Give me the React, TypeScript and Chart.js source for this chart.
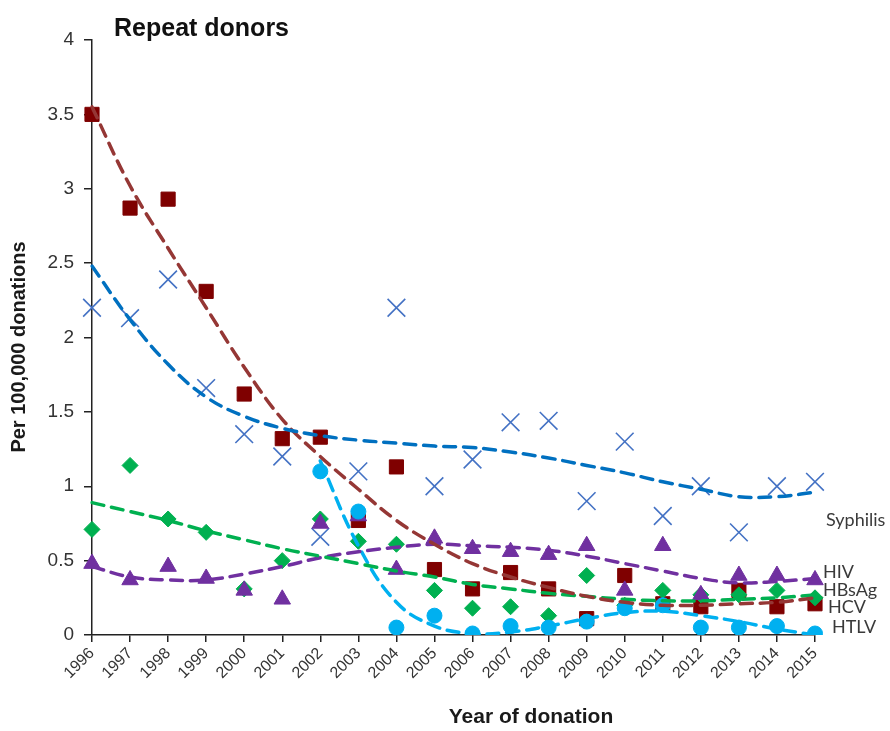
import React, { useEffect, useRef } from "react";
import { Chart, registerables } from "chart.js";

Chart.register(...registerables);

const years = ["1996","1997","1998","1999","2000","2001","2002","2003","2004","2005","2006","2007","2008","2009","2010","2011","2012","2013","2014","2015"];

// Observed rates (per 100,000 donations)
const hcv = [3.5, 2.87, 2.93, 2.31, 1.62, 1.32, 1.33, 0.77, 1.13, 0.44, 0.31, 0.42, 0.31, 0.11, 0.4, 0.21, 0.19, 0.3, 0.19, 0.21];
const syphilis = [2.2, 2.13, 2.39, 1.66, 1.35, 1.2, 0.66, 1.1, 2.2, 1.0, 1.18, 1.43, 1.44, 0.9, 1.3, 0.8, 1.0, 0.69, 1.0, 1.03];
const hbsag = [0.71, 1.14, 0.78, 0.69, 0.31, 0.5, 0.78, 0.63, 0.61, 0.3, 0.18, 0.19, 0.13, 0.4, 0.2, 0.3, 0.27, 0.27, 0.3, 0.25];
const hiv = [0.48, 0.37, 0.46, 0.38, 0.3, 0.24, 0.75, 0.8, 0.44, 0.65, 0.58, 0.56, 0.54, 0.6, 0.3, 0.6, 0.27, 0.4, 0.4, 0.37];
const htlv = [null, null, null, null, null, null, 1.1, 0.83, 0.05, 0.13, 0.01, 0.06, 0.05, 0.09, 0.18, 0.2, 0.05, 0.05, 0.06, 0.01];

// Trend lines
const syphilisTrend = [2.48, 2.12, 1.82, 1.6, 1.47, 1.39, 1.34, 1.31, 1.29, 1.27, 1.26, 1.23, 1.19, 1.14, 1.09, 1.03, 0.98, 0.93, 0.93, 0.96];
const hcvTrend = [3.55, 3.02, 2.6, 2.2, 1.8, 1.45, 1.2, 0.98, 0.77, 0.61, 0.48, 0.39, 0.32, 0.26, 0.22, 0.2, 0.2, 0.21, 0.22, 0.25];
const hbsagTrend = [0.89, 0.83, 0.77, 0.7, 0.64, 0.58, 0.53, 0.48, 0.43, 0.39, 0.34, 0.31, 0.28, 0.26, 0.24, 0.23, 0.23, 0.24, 0.25, 0.27];
const hivTrend = [0.46, 0.39, 0.37, 0.37, 0.41, 0.46, 0.52, 0.56, 0.59, 0.61, 0.6, 0.59, 0.57, 0.53, 0.48, 0.43, 0.38, 0.35, 0.36, 0.38];
const htlvTrend = [null, null, null, null, null, null, 1.17, 0.6, 0.22, 0.06, 0.01, 0.02, 0.06, 0.11, 0.15, 0.16, 0.13, 0.09, 0.04, 0.0];

const yTicks = [0, 0.5, 1, 1.5, 2, 2.5, 3, 3.5, 4];

const seriesLabels = [
  { text: "Syphilis", value: 0.77, x: 826 },
  { text: "HIV", value: 0.42, x: 823 },
  { text: "HBsAg", value: 0.3, x: 823 },
  { text: "HCV", value: 0.19, x: 828 },
  { text: "HTLV", value: 0.05, x: 832 },
];

const textPlugin = {
  id: "textPlugin",
  afterDraw(chart: any) {
    const ctx = chart.ctx;
    const y = chart.scales.y;
    ctx.save();
    ctx.fillStyle = "#111";
    ctx.textBaseline = "middle";
    ctx.textAlign = "left";
    ctx.font = "bold 25px 'Liberation Sans', Arial, sans-serif";
    ctx.fillText("Repeat donors", 114, 29);

    ctx.textAlign = "center";
    ctx.fillStyle = "#1a1a1a";
    ctx.font = "bold 21px 'Liberation Sans', Arial, sans-serif";
    ctx.fillText("Year of donation", 531, 717);

    ctx.save();
    ctx.translate(19, 347);
    ctx.rotate(-Math.PI / 2);
    ctx.font = "bold 20px 'Liberation Sans', Arial, sans-serif";
    ctx.fillText("Per 100,000 donations", 0, 0);
    ctx.restore();

    ctx.textAlign = "left";
    ctx.fillStyle = "#3a3a3a";
    ctx.font = "18px Lato, 'Noto Sans', sans-serif";
    for (const l of seriesLabels) {
      ctx.fillText(l.text, l.x, y.getPixelForValue(l.value));
    }
    ctx.restore();
  },
};

const trend = (data: (number | null)[], color: string, order: number) => ({
  type: "line" as const,
  data,
  borderColor: color,
  borderWidth: 3.5,
  borderDash: [12, 8],
  borderCapStyle: "round" as const,
  pointRadius: 0,
  fill: false,
  tension: 0.4,
  order,
});

const markers = (data: (number | null)[], color: string, style: string, radius: number, order: number, extra: any = {}) => ({
  type: "line" as const,
  data,
  showLine: false,
  pointStyle: style,
  pointRadius: radius,
  pointBackgroundColor: color,
  pointBorderColor: color,
  pointBorderWidth: 1,
  order,
  ...extra,
});

export default function App() {
  const ref = useRef<HTMLCanvasElement | null>(null);
  useEffect(() => {
    if (!ref.current) return;
    const chart = new Chart(ref.current, {
      type: "line",
      data: {
        labels: years,
        datasets: [
          trend(syphilisTrend, "#0070C0", 1),
          trend(hcvTrend, "#953735", 1),
          trend(hbsagTrend, "#00B050", 1),
          trend(hivTrend, "#7030A0", 1),
          trend(htlvTrend, "#00B0F0", 1),
          markers(syphilis, "#4472C4", "crossRot", 12.5, 6, { pointBorderWidth: 1.6, pointBackgroundColor: "rgba(0,0,0,0)" }),
          markers(hcv, "#7F0000", "rect", 10, 5),
          markers(hbsag, "#00B050", "rectRot", 8, 4),
          markers(hiv, "#7030A0", "triangle", 9.5, 3),
          markers(htlv, "#00B0F0", "circle", 7.5, 2),
        ] as any,
      },
      options: {
        responsive: false,
        animation: false,
        events: [],
        layout: { padding: { left: 0, top: 40, right: 75, bottom: 0 } },
        plugins: { legend: { display: false }, tooltip: { enabled: false }, title: { display: false } },
        scales: {
          x: {
            type: "category",
            offset: false,
            border: { display: true, color: "#222", width: 1.5 },
            grid: { display: true, drawOnChartArea: false, drawTicks: true, tickLength: 7, color: "#222", lineWidth: 1.5 },
            ticks: {
              autoSkip: false,
              maxRotation: 45,
              minRotation: 45,
              padding: 2,
              color: "#333",
              font: { family: "'Liberation Sans', Arial, sans-serif", size: 16 },
            },
            afterFit: (s: any) => { s.height = 96; },
          },
          y: {
            min: 0,
            max: 4,
            afterBuildTicks: (s: any) => { s.ticks = yTicks.map((v) => ({ value: v })); },
            border: { display: true, color: "#222", width: 1.5 },
            grid: { display: true, drawOnChartArea: false, drawTicks: true, tickLength: 8, color: "#222", lineWidth: 1.5 },
            ticks: {
              padding: 10,
              color: "#333",
              font: { family: "'Liberation Sans', Arial, sans-serif", size: 19 },
              callback: (v: any) => String(v),
            },
            afterFit: (s: any) => { s.width = 92; },
          },
        },
      },
      plugins: [textPlugin],
    });
    return () => chart.destroy();
  }, []);
  return (
    <div style={{ position: "fixed", left: 0, top: 0, width: 890, height: 731, background: "#fff" }}>
      <canvas ref={ref} width={890} height={731} />
    </div>
  );
}
